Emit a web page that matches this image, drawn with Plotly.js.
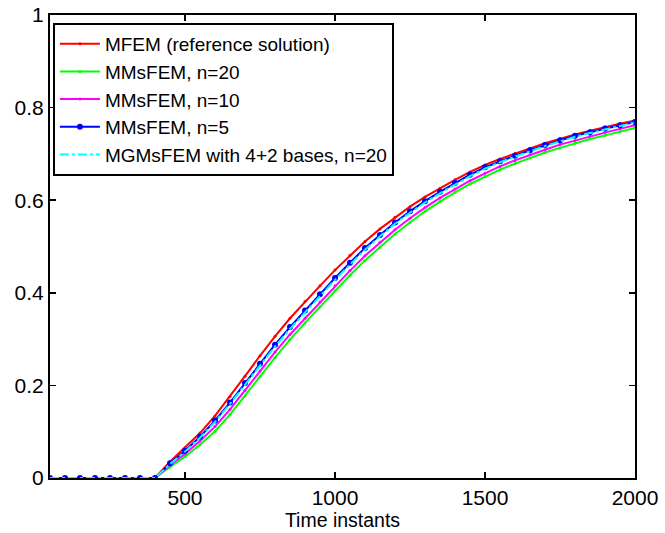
<!DOCTYPE html>
<html><head><meta charset="utf-8">
<script src="https://cdn.plot.ly/plotly-3.0.1.min.js"></script>
<style>html,body{margin:0;padding:0;background:#fff}#chart{width:665px;height:533px}</style>
</head><body><div id="chart"></div>
<script>
const timeInstants = [50,100,150,200,250,300,350,400,450,500,550,600,650,700,750,800,850,900,950,1000,1050,1100,1150,1200,1250,1300,1350,1400,1450,1500,1550,1600,1650,1700,1750,1800,1850,1900,1950,2000];
const mfem   = [0,0,0,0,0,0,0,0,0.035,0.065,0.097,0.134,0.176,0.220,0.264,0.306,0.345,0.381,0.415,0.449,0.481,0.511,0.538,0.563,0.586,0.607,0.626,0.644,0.661,0.676,0.689,0.701,0.712,0.723,0.733,0.742,0.750,0.758,0.765,0.772];
const mms20  = [0,0,0,0,0,0,0,0,0.024,0.046,0.072,0.101,0.137,0.177,0.219,0.260,0.299,0.335,0.370,0.405,0.438,0.470,0.499,0.527,0.552,0.576,0.597,0.617,0.635,0.651,0.666,0.679,0.691,0.703,0.713,0.723,0.732,0.740,0.748,0.756];
const mms10  = [0,0,0,0,0,0,0,0,0.028,0.052,0.080,0.111,0.148,0.189,0.231,0.272,0.310,0.345,0.380,0.415,0.448,0.480,0.509,0.536,0.561,0.584,0.605,0.624,0.642,0.658,0.673,0.686,0.698,0.709,0.720,0.729,0.738,0.746,0.754,0.762];
const mms5   = [0,0,0,0,0,0,0,0,0.032,0.059,0.089,0.124,0.163,0.205,0.247,0.288,0.326,0.362,0.397,0.432,0.465,0.497,0.525,0.552,0.576,0.598,0.618,0.637,0.655,0.671,0.684,0.696,0.708,0.719,0.729,0.739,0.747,0.755,0.762,0.769];
const mgms20 = [0,0,0,0,0,0,0,0,0.030,0.057,0.087,0.121,0.160,0.201,0.243,0.284,0.322,0.358,0.393,0.428,0.461,0.493,0.522,0.549,0.573,0.595,0.615,0.634,0.652,0.668,0.682,0.694,0.706,0.717,0.727,0.737,0.745,0.753,0.761,0.768];
const xTicks = [500,1000,1500,2000];
const yTicks = [0,0.2,0.4,0.6,0.8,1];
const yTickText = ['0','0.2','0.4','0.6','0.8','1'];
const names = ['MFEM (reference solution)','MMsFEM, n=20','MMsFEM, n=10','MMsFEM, n=5','MGMsFEM with 4+2 bases, n=20'];

const traces = [
  {x: timeInstants, y: mfem, name: names[0], mode: 'lines+markers', line: {color: '#ff0000', width: 2}, marker: {color: '#ff0000', size: 3}},
  {x: timeInstants, y: mms20, name: names[1], mode: 'lines+markers', line: {color: '#00ff00', width: 2}, marker: {color: '#00ff00', size: 3}},
  {x: timeInstants, y: mms10, name: names[2], mode: 'lines+markers', line: {color: '#ff00ff', width: 2}, marker: {color: '#ff00ff', size: 3}},
  {x: timeInstants, y: mms5, name: names[3], mode: 'lines+markers', line: {color: '#0000ff', width: 2}, marker: {color: '#0000ff', size: 6, symbol: 'circle'}},
  {x: timeInstants, y: mgms20, name: names[4], mode: 'lines', line: {color: '#00ffff', width: 2, dash: 'dashdot'}}
];

const layout = {
  width: 665, height: 533,
  margin: {l: 50, r: 30, t: 15, b: 55},
  paper_bgcolor: '#fff', plot_bgcolor: '#fff',
  font: {family: 'Liberation Sans, Arial, sans-serif', color: '#000', size: 19},
  showlegend: true,
  legend: {x: 0.005, y: 0.983, xanchor: 'left', yanchor: 'top', bgcolor: '#fff', bordercolor: '#000', borderwidth: 2,
           font: {size: 19}, itemwidth: 40, tracegroupgap: 0},
  xaxis: {range: [50, 2000], tickvals: xTicks, ticktext: xTicks.map(String), ticks: 'inside', ticklen: 6, tickwidth: 1.5,
          tickcolor: '#000', showline: true, linecolor: '#000', linewidth: 2, mirror: 'ticks', showgrid: false, zeroline: false,
          tickfont: {size: 21}, title: {text: 'Time instants', font: {size: 19.5}, standoff: 0}},
  yaxis: {range: [0, 1], tickvals: yTicks, ticktext: yTickText, ticks: 'inside', ticklen: 6, tickwidth: 1.5,
          tickcolor: '#000', showline: true, linecolor: '#000', linewidth: 2, mirror: 'ticks', showgrid: false, zeroline: false,
          tickfont: {size: 21}}
};
Plotly.newPlot('chart', traces, layout, {displayModeBar: false, staticPlot: true});
</script></body></html>
